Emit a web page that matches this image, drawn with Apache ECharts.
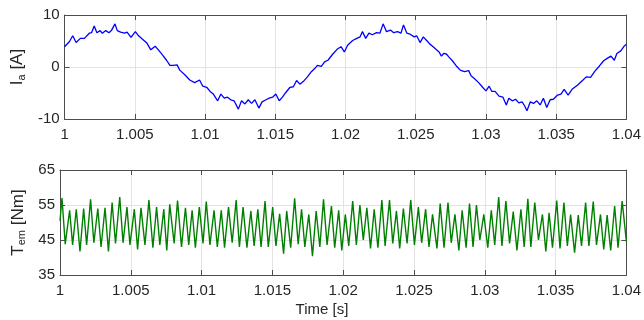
<!DOCTYPE html>
<html>
<head>
<meta charset="utf-8">
<title>Ia / Tem</title>
<script src="https://cdn.jsdelivr.net/npm/echarts@6/dist/echarts.min.js"></script>
<style>
	html, body { margin: 0; padding: 0; background: #fff; }
	#chartDiv { width: 644px; height: 320px; }
</style>
</head>
<body>
<div id="chartDiv"></div>
<script>
// x axis ticks (time, s)
var timeTicks = [1, 1.005, 1.01, 1.015, 1.02, 1.025, 1.03, 1.035, 1.04];
var currentTicks = [-10, 0, 10];
var torqueTicks = [35, 45, 55, 65];

// phase current Ia [A]
var currentTime = [
	1.00000, 1.00035, 1.00058, 1.00082, 1.00112, 1.00141, 1.00176, 1.00192, 1.00211, 1.00230,
	1.00253, 1.00269, 1.00293, 1.00316, 1.00333, 1.00359, 1.00375, 1.00399, 1.00427, 1.00445,
	1.00473, 1.00504, 1.00527, 1.00557, 1.00586, 1.00614, 1.00645, 1.00668, 1.00698, 1.00726,
	1.00750, 1.00773, 1.00801, 1.00820, 1.00856, 1.00891, 1.00926, 1.00961, 1.00984, 1.01012,
	1.01036, 1.01059, 1.01090, 1.01113, 1.01137, 1.01160, 1.01183, 1.01207, 1.01237, 1.01260,
	1.01284, 1.01308, 1.01331, 1.01355, 1.01383, 1.01406, 1.01434, 1.01457, 1.01481, 1.01504,
	1.01528, 1.01551, 1.01575, 1.01605, 1.01629, 1.01652, 1.01675, 1.01699, 1.01729, 1.01757,
	1.01781, 1.01800, 1.01828, 1.01851, 1.01875, 1.01910, 1.01940, 1.01968, 1.01992, 1.02015,
	1.02051, 1.02081, 1.02104, 1.02121, 1.02144, 1.02167, 1.02191, 1.02221, 1.02245, 1.02268,
	1.02292, 1.02320, 1.02343, 1.02371, 1.02395, 1.02413, 1.02437, 1.02460, 1.02489, 1.02507,
	1.02531, 1.02554, 1.02578, 1.02601, 1.02624, 1.02648, 1.02666, 1.02683, 1.02699, 1.02718,
	1.02737, 1.02761, 1.02789, 1.02817, 1.02847, 1.02877, 1.02894, 1.02917, 1.02948, 1.02976,
	1.03000, 1.03023, 1.03042, 1.03065, 1.03093, 1.03121, 1.03145, 1.03163, 1.03187, 1.03211,
	1.03234, 1.03257, 1.03276, 1.03292, 1.03316, 1.03339, 1.03362, 1.03386, 1.03409, 1.03433,
	1.03457, 1.03480, 1.03510, 1.03534, 1.03557, 1.03585, 1.03613, 1.03651, 1.03691, 1.03714,
	1.03745, 1.03773, 1.03808, 1.03838, 1.03866, 1.03890, 1.03914, 1.03932, 1.03960, 1.03984,
	1.04000
];
var currentValue = [
	3.9, 4.9, 6.0, 4.7, 5.5, 5.5, 6.5, 6.6, 7.9, 6.6,
	7.0, 6.5, 7.0, 6.6, 7.0, 8.3, 7.0, 6.7, 6.5, 6.7,
	5.7, 6.8, 6.0, 5.3, 4.6, 3.3, 4.0, 3.3, 2.3, 1.3,
	0.3, 0.3, 0.4, -0.6, -1.5, -2.5, -3.0, -2.5, -3.7, -3.9,
	-4.7, -5.2, -6.5, -5.2, -6.0, -5.8, -6.3, -6.5, -8.1, -6.5,
	-7.1, -6.3, -7.0, -6.3, -7.9, -6.7, -6.3, -6.0, -5.8, -5.2,
	-6.5, -5.8, -4.9, -3.9, -3.8, -2.6, -3.3, -2.8, -1.9, -0.9,
	-0.3, 0.3, 0.1, 1.0, 1.3, 2.5, 3.4, 3.9, 2.9, 4.2,
	5.1, 5.5, 5.8, 6.8, 5.5, 6.5, 6.2, 6.6, 6.5, 8.3,
	6.8, 7.1, 6.6, 6.8, 6.5, 8.1, 6.5, 6.3, 5.8, 6.0,
	4.7, 5.8, 5.1, 4.4, 3.9, 3.3, 2.9, 2.1, 2.6, 2.5,
	1.9, 1.2, 0.2, -0.6, -0.9, -0.7, -1.7, -2.2, -3.0, -3.9,
	-4.6, -3.7, -4.7, -4.7, -5.6, -5.8, -7.3, -6.0, -6.5, -6.2,
	-6.9, -6.7, -7.5, -8.4, -6.7, -7.0, -6.5, -7.3, -6.0, -7.8,
	-6.3, -6.2, -5.4, -5.2, -4.3, -5.4, -4.3, -3.5, -2.5, -1.9,
	-2.0, -0.9, 0.2, 1.2, 1.7, 2.1, 1.3, 2.6, 3.1, 4.0,
	4.4
];

// electromagnetic torque Tem [Nm], peaks and troughs
var torqueTime = [
	1.00000, 1.00014, 1.00037, 1.00068, 1.00089, 1.00115, 1.00141, 1.00167, 1.00188, 1.00216,
	1.00239, 1.00267, 1.00290, 1.00318, 1.00342, 1.00368, 1.00392, 1.00422, 1.00445, 1.00473,
	1.00494, 1.00525, 1.00548, 1.00572, 1.00600, 1.00628, 1.00656, 1.00682, 1.00705, 1.00733,
	1.00754, 1.00775, 1.00806, 1.00830, 1.00858, 1.00886, 1.00909, 1.00933, 1.00956, 1.00984,
	1.01010, 1.01033, 1.01059, 1.01088, 1.01111, 1.01139, 1.01162, 1.01190, 1.01216, 1.01244,
	1.01267, 1.01293, 1.01320, 1.01348, 1.01371, 1.01397, 1.01420, 1.01448, 1.01471, 1.01502,
	1.01525, 1.01551, 1.01579, 1.01601, 1.01629, 1.01657, 1.01682, 1.01706, 1.01729, 1.01757,
	1.01783, 1.01809, 1.01835, 1.01861, 1.01886, 1.01917, 1.01940, 1.01968, 1.01990, 1.02015,
	1.02039, 1.02067, 1.02093, 1.02118, 1.02142, 1.02167, 1.02193, 1.02219, 1.02245, 1.02273,
	1.02296, 1.02327, 1.02350, 1.02376, 1.02399, 1.02425, 1.02451, 1.02477, 1.02503, 1.02531,
	1.02554, 1.02582, 1.02606, 1.02631, 1.02662, 1.02685, 1.02712, 1.02740, 1.02763, 1.02789,
	1.02817, 1.02840, 1.02868, 1.02892, 1.02917, 1.02941, 1.02965, 1.02993, 1.03021, 1.03046,
	1.03070, 1.03098, 1.03121, 1.03149, 1.03175, 1.03201, 1.03227, 1.03255, 1.03278, 1.03304,
	1.03325, 1.03353, 1.03379, 1.03407, 1.03431, 1.03454, 1.03478, 1.03508, 1.03531, 1.03559,
	1.03583, 1.03606, 1.03634, 1.03660, 1.03683, 1.03712, 1.03735, 1.03766, 1.03789, 1.03817,
	1.03840, 1.03864, 1.03889, 1.03917, 1.03941, 1.03970, 1.04000
];
var torqueValue = [
	50.5, 57.0, 43.8, 53.5, 43.6, 53.8, 41.7, 54.0, 43.6, 56.6,
	44.2, 54.0, 43.0, 54.2, 41.7, 55.7, 44.0, 57.3, 44.2, 54.4,
	43.6, 53.8, 42.3, 54.2, 43.6, 56.4, 42.8, 54.4, 43.6, 53.8,
	42.0, 55.2, 44.0, 56.3, 43.0, 54.2, 43.6, 53.5, 42.8, 54.4,
	44.0, 56.0, 43.6, 53.5, 43.0, 53.5, 42.8, 54.4, 44.2, 56.4,
	43.0, 54.4, 42.8, 53.3, 43.3, 53.8, 43.0, 56.1, 43.0, 54.4,
	43.3, 52.5, 41.1, 53.3, 42.8, 56.9, 43.8, 53.8, 43.0, 52.3,
	40.4, 53.3, 43.0, 56.6, 43.6, 54.7, 42.8, 53.5, 42.0, 52.3,
	43.3, 56.1, 43.6, 55.0, 45.0, 54.2, 42.6, 53.8, 42.8, 56.4,
	43.3, 56.4, 44.0, 53.3, 42.6, 54.0, 44.0, 56.4, 43.6, 54.4,
	44.2, 53.8, 43.0, 52.3, 42.6, 55.4, 42.8, 55.7, 44.2, 52.3,
	42.0, 53.5, 42.8, 55.4, 43.0, 55.0, 45.0, 52.3, 42.8, 53.5,
	43.6, 57.3, 43.3, 56.1, 44.0, 53.1, 42.0, 53.8, 43.0, 56.8,
	43.0, 55.7, 45.0, 52.3, 41.7, 52.8, 42.8, 56.3, 42.6, 55.7,
	43.3, 52.3, 41.4, 52.1, 43.3, 55.7, 43.3, 56.0, 43.6, 52.3,
	42.3, 52.1, 42.0, 54.7, 42.8, 56.1, 44.5
];

var textColor = '#262626';
var boxColor = '#4d4d4d';
var gridColor = '#e3e3e3';
var fontName = 'Liberation Sans, Arial, sans-serif';

window.onload = function() {
	initChart();
};

/**
 * pair two arrays into [x, y] points
 */
function toPoints(xs, ys) {
	var pts = [];
	for (var i = 0; i < xs.length; i++) {
		pts.push([xs[i], ys[i]]);
	}
	return pts;
}

/**
 * time axis: bottom one carries labels, top one only closes the box
 */
function timeAxis(gridIndex, position, showLabel) {
	return {
		type : 'value',
		gridIndex : gridIndex,
		position : position,
		min : timeTicks[0],
		max : timeTicks[timeTicks.length - 1],
		interval : 0.005,
		axisLine : { show : true, onZero : false, lineStyle : { color : boxColor, width : 1 } },
		axisTick : { show : true, inside : true, length : 5, lineStyle : { color : boxColor } },
		axisLabel : {
			show : showLabel,
			margin : 8,
			color : textColor,
			fontSize : 15,
			fontFamily : fontName,
			formatter : function(v) { return String(parseFloat(v.toFixed(3))); }
		},
		splitLine : { show : position == 'bottom', lineStyle : { color : gridColor, width : 1 } }
	};
}

/**
 * value axis: left one carries labels and the name, right one closes the box
 */
function valueAxis(gridIndex, position, ticks, name, showLabel) {
	return {
		type : 'value',
		gridIndex : gridIndex,
		position : position,
		min : ticks[0],
		max : ticks[ticks.length - 1],
		interval : ticks[1] - ticks[0],
		name : showLabel ? name : '',
		nameLocation : 'middle',
		nameGap : 32,
		nameTextStyle : {
			color : textColor,
			fontFamily : fontName,
			rich : {
				big : { fontSize : 17, color : textColor, fontFamily : fontName, lineHeight : 20 },
				sub : { fontSize : 11, color : textColor, fontFamily : fontName, padding : [8, 0, 0, 0], lineHeight : 20 }
			}
		},
		axisLine : { show : true, onZero : false, lineStyle : { color : boxColor, width : 1 } },
		axisTick : { show : true, inside : true, length : 5, lineStyle : { color : boxColor } },
		axisLabel : {
			show : showLabel,
			margin : 5,
			color : textColor,
			fontSize : 15,
			fontFamily : fontName
		},
		splitLine : { show : position == 'left', lineStyle : { color : gridColor, width : 1 } }
	};
}

/**
 * build the two stacked plots
 */
function initChart() {
	var myChart = echarts.init(document.getElementById('chartDiv'), null, { renderer : 'canvas' });

	var option = {
		animation : false,
		backgroundColor : '#ffffff',
		grid : [
			{ left : 60, right : 15, top : 15, height : 104 },
			{ left : 60, right : 15, top : 170, height : 105 }
		],
		xAxis : [
			timeAxis(0, 'bottom', true),
			timeAxis(0, 'top', false),
			timeAxis(1, 'bottom', true),
			timeAxis(1, 'top', false)
		],
		yAxis : [
			valueAxis(0, 'left', currentTicks, '{big|I}{sub|a}{big| [A]}', true),
			valueAxis(0, 'right', currentTicks, '', false),
			valueAxis(1, 'left', torqueTicks, '{big|T}{sub|em}{big| [Nm]}', true),
			valueAxis(1, 'right', torqueTicks, '', false)
		],
		graphic : [{
			type : 'text',
			left : 'center',
			top : 302,
			style : {
				text : 'Time [s]',
				fill : textColor,
				fontSize : 15,
				fontFamily : fontName
			}
		}],
		series : [
			{
				name : 'Ia',
				type : 'line',
				xAxisIndex : 0,
				yAxisIndex : 0,
				showSymbol : false,
				lineStyle : { color : '#0000ff', width : 1.3 },
				data : toPoints(currentTime, currentValue)
			},
			{
				name : 'Tem',
				type : 'line',
				xAxisIndex : 2,
				yAxisIndex : 2,
				showSymbol : false,
				lineStyle : { color : '#008000', width : 1.4 },
				data : toPoints(torqueTime, torqueValue)
			}
		]
	};

	myChart.setOption(option);
}
</script>
</body>
</html>
